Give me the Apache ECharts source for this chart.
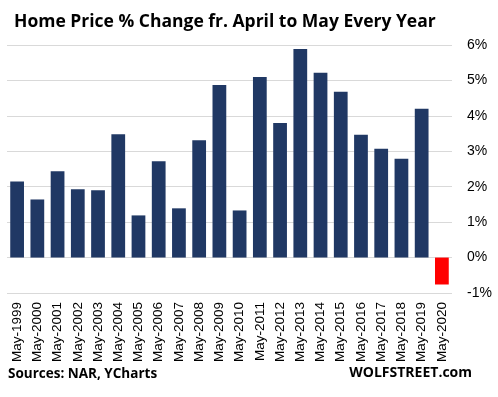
<!DOCTYPE html>
<html>
<head>
<meta charset="utf-8">
<script src="https://cdn.jsdelivr.net/npm/echarts@6/dist/echarts.min.js"></script>
<style>
  html, body { margin: 0; padding: 0; background: #fff; }
  #chart { width: 498px; height: 397px; }
</style>
</head>
<body>
<div id="chart"></div>
<script>
const years = ['May-1999', 'May-2000', 'May-2001', 'May-2002', 'May-2003', 'May-2004',
  'May-2005', 'May-2006', 'May-2007', 'May-2008', 'May-2009', 'May-2010', 'May-2011',
  'May-2012', 'May-2013', 'May-2014', 'May-2015', 'May-2016', 'May-2017', 'May-2018',
  'May-2019', 'May-2020']
const changes = [2.15, 1.64, 2.44, 1.93, 1.90, 3.48, 1.19, 2.72, 1.39, 3.31, 4.87, 1.33,
  5.10, 3.80, 5.89, 5.22, 4.68, 3.47, 3.07, 2.79, 4.20, -0.76]
const yTicks = { min: -1, max: 6, step: 1 }

const chart = echarts.init(document.getElementById('chart'))

const bars = changes.map(v => ({
  value: v,
  itemStyle: { color: v < 0 ? '#ff0000' : '#203864' },
}))

chart.setOption({
  animation: false,
  title: {
    text: 'Home Price % Change fr. April to May Every Year',
    left: 9,
    top: 8,
    textStyle: { fontFamily: 'Open Sans', fontWeight: 'bold', fontSize: 17.5, color: '#000' },
  },
  graphic: [
    {
      type: 'text', left: 8, top: 367,
      style: { text: 'Sources: NAR, YCharts', font: 'bold 13.5px "Open Sans"', fill: '#000' },
    },
    {
      type: 'text', right: 26, top: 366,
      style: { text: 'WOLFSTREET.com', font: 'bold 14px "Open Sans"', fill: '#000' },
    },
  ],
  grid: { left: 7, right: 46, top: 45, bottom: 104 },
  xAxis: {
    type: 'category',
    data: years,
    axisLine: { show: false, onZero: false },
    axisTick: { show: false },
    axisLabel: {
      rotate: 90,
      interval: 0,
      margin: 9,
      fontFamily: 'Liberation Sans',
      fontSize: 13.5,
      color: '#000',
    },
  },
  yAxis: {
    type: 'value',
    position: 'right',
    min: yTicks.min,
    max: yTicks.max,
    interval: yTicks.step,
    axisLine: { show: false },
    axisTick: { show: false },
    splitLine: { lineStyle: { color: '#d9d9d9', width: 1 } },
    axisLabel: {
      formatter: '{value}%',
      margin: 15,
      fontFamily: 'Liberation Sans',
      fontSize: 14,
      color: '#000',
    },
  },
  series: [{
    type: 'bar',
    data: bars,
    barWidth: '68%',
  }],
})
</script>
</body>
</html>
